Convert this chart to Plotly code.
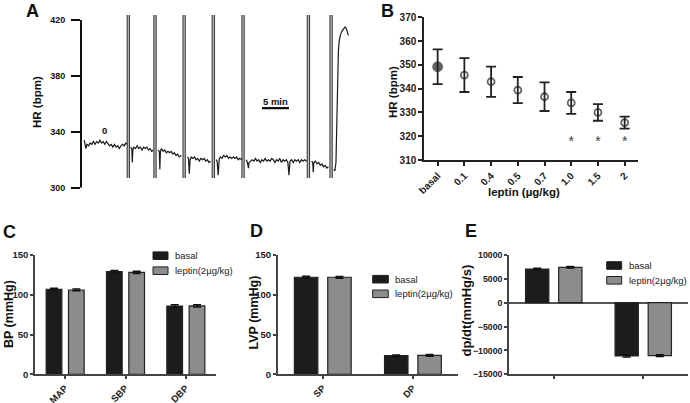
import plotly.graph_objects as go

W, H = 690, 403
FONT = "Arial, Liberation Sans, Helvetica, sans-serif"

# ---------------- Panel A: HR recording (time in min, HR in bpm) ----------------
HR_SEGMENTS = [
    [(0.6, 334), (0.8, 330), (0.9, 328), (1.1, 331), (1.4, 330), (1.7, 332), (2.0, 331), (2.3, 333),
     (2.6, 331), (2.9, 333), (3.2, 332), (3.5, 334), (3.8, 332), (4.1, 333), (4.4, 331), (4.7, 333),
     (5.0, 331), (5.3, 330), (5.6, 331), (5.9, 329), (6.2, 331), (6.5, 329), (6.8, 330), (7.1, 328),
     (7.4, 330), (7.7, 331), (8.0, 330), (8.3, 332), (8.5, 331)],
    [(9.2, 329), (9.4, 328), (9.5, 318), (9.6, 327), (9.8, 329), (10.1, 328), (10.4, 330), (10.7, 328),
     (11.0, 329), (11.3, 327), (11.6, 329), (11.9, 328), (12.2, 329), (12.5, 327), (12.8, 328),
     (13.1, 326), (13.4, 327)],
    [(14.3, 327), (14.5, 326), (14.6, 313), (14.7, 326), (14.9, 328), (15.2, 326), (15.5, 327),
     (15.8, 325), (16.1, 326), (16.4, 325), (16.7, 326), (17.0, 324), (17.3, 325), (17.6, 323),
     (17.9, 324), (18.2, 322), (18.6, 323)],
    [(19.7, 322), (19.9, 321), (20.05, 310), (20.2, 320), (20.4, 322), (20.7, 321), (21.0, 322),
     (21.3, 320), (21.6, 321), (21.9, 319), (22.2, 321), (22.5, 320), (22.8, 321), (23.1, 319),
     (23.4, 320), (23.7, 318), (24.0, 319)],
    [(25.0, 320), (25.2, 319), (25.4, 309), (25.6, 321), (25.8, 322), (26.1, 321), (26.4, 323),
     (26.7, 322), (27.0, 323), (27.3, 321), (27.6, 322), (27.9, 321), (28.2, 322), (28.5, 321),
     (28.8, 322), (29.1, 320), (29.4, 321), (29.8, 320)],
    [(30.6, 320), (30.8, 318), (31.0, 314), (31.1, 318), (31.4, 319), (31.7, 320), (32.0, 319),
     (32.3, 321), (32.6, 319), (32.9, 320), (33.2, 318), (33.5, 320), (33.8, 319), (34.1, 321),
     (34.4, 319), (34.7, 320), (35.0, 319), (35.3, 321), (35.6, 320), (35.9, 318), (36.2, 320),
     (36.5, 319), (36.8, 321), (37.1, 318), (37.4, 320), (37.7, 319), (38.0, 320), (38.3, 318),
     (38.5, 309), (38.7, 319), (39.0, 320), (39.3, 318), (39.6, 320), (39.9, 319), (40.2, 320),
     (40.5, 318), (40.8, 320), (41.1, 319), (41.4, 320), (41.8, 319)],
    [(42.7, 319), (42.9, 318), (43.0, 311), (43.1, 318), (43.4, 319), (43.7, 317), (44.0, 318),
     (44.3, 316), (44.6, 317), (44.9, 315), (45.2, 316), (45.5, 314), (45.8, 315)],
    [(46.8, 313), (47.0, 312), (47.2, 318), (47.35, 345), (47.5, 380), (47.65, 398), (47.8, 405),
     (48.0, 409), (48.3, 412), (48.6, 414), (48.9, 415), (49.1, 414), (49.3, 411), (49.5, 409)],
]
EVENT_TIMES = [8.76, 13.7, 19.1, 24.5, 30.0, 42.1, 46.3]
EVENT_LABELS = ["1", "2", "3", "4", "5", "6", "ISO"]
EVENT_SPAN = [307, 423.6]
EVENT_LABEL_LEVEL = 296.7
BASELINE_LABEL = ("0", 4.26, 340.6)
SCALE_BAR_START, SCALE_BAR_LEN, SCALE_BAR_LEVEL = 33.5, 5.0, 357
A_TICKS = [300, 340, 380, 420]

# ---------------- Panel B: dose response ----------------
DOSES = ["basal", "0.1", "0.4", "0.5", "0.7", "1.0", "1.5", "2"]
HR_MEAN = [349.2, 345.7, 342.9, 339.4, 336.6, 334.0, 330.0, 325.7]
HR_SEM = [7.3, 7.1, 6.4, 5.5, 6.0, 4.6, 3.5, 2.5]
SIG = ["", "", "", "", "", "*", "*", "*"]
STAR_LEVEL = 317.5

# ---------------- Panels C, D, E: bars ----------------
SERIES = ["basal", "leptin(2\u00b5g/kg)"]
SERIES_COLORS = ["#1c1c1c", "#8c8c8c"]

BP_CATS = ["MAP", "SBP", "DBP"]
BP_BASAL = [106.9, 129.0, 85.9]
BP_LEPTIN = [106.0, 128.2, 86.0]
BP_BASAL_ERR = [1.2, 1.6, 1.4]
BP_LEPTIN_ERR = [1.1, 1.5, 1.3]

LVP_CATS = ["SP", "DP"]
LVP_BASAL = [122.0, 23.4]
LVP_LEPTIN = [122.0, 23.8]
LVP_BASAL_ERR = [1.2, 0.9]
LVP_LEPTIN_ERR = [1.1, 1.0]

DPDT_CATS = ["+dp/dt", "-dp/dt"]
DPDT_BASAL = [7060, -11170]
DPDT_LEPTIN = [7420, -11100]
DPDT_BASAL_ERR = [150, 200]
DPDT_LEPTIN_ERR = [160, 190]


def px(p):
    return p / W


def py(p):
    return 1 - p / H


fig = go.Figure()

# ---- Panel A traces ----
tx, ty = [], []
for seg in HR_SEGMENTS:
    for t, v in seg:
        tx.append(t)
        ty.append(v)
    tx.append(None)
    ty.append(None)

ex, ey = [], []
for t in EVENT_TIMES:
    ex += [t, t, None]
    ey += [EVENT_SPAN[0], EVENT_SPAN[1], None]

fig.add_trace(go.Scatter(x=ex, y=ey, mode="lines", line=dict(color="#404040", width=3.4),
                         xaxis="x", yaxis="y", showlegend=False, hoverinfo="skip"))
fig.add_trace(go.Scatter(x=ex, y=ey, mode="lines", line=dict(color="#bdbdbd", width=1.2),
                         xaxis="x", yaxis="y", showlegend=False, hoverinfo="skip"))
fig.add_trace(go.Scatter(x=tx, y=ty, mode="lines", line=dict(color="#1a1a1a", width=1.2),
                         connectgaps=False, xaxis="x", yaxis="y", showlegend=False))
fig.add_trace(go.Scatter(x=[SCALE_BAR_START, SCALE_BAR_START + SCALE_BAR_LEN],
                         y=[SCALE_BAR_LEVEL, SCALE_BAR_LEVEL], mode="lines",
                         line=dict(color="#111", width=2.2), xaxis="x", yaxis="y", showlegend=False))

# ---- Panel B ----
symbols = ["circle"] + ["circle-open"] * (len(DOSES) - 1)
sizes = [9] + [7] * (len(DOSES) - 1)
fig.add_trace(go.Scatter(
    x=DOSES, y=HR_MEAN, mode="markers", xaxis="x2", yaxis="y2", showlegend=False,
    marker=dict(symbol=symbols, size=sizes, color="#222", line=dict(color="#222", width=1.8)),
    error_y=dict(type="data", array=HR_SEM, visible=True, thickness=1.8, width=5, color="#222"),
))
star_x = [d for d, s in zip(DOSES, SIG) if s]
star_t = [s for s in SIG if s]
fig.add_trace(go.Scatter(x=star_x, y=[STAR_LEVEL] * len(star_x), mode="text", text=star_t,
                         textfont=dict(family=FONT, size=14, color="#444"),
                         textposition="middle center", xaxis="x2", yaxis="y2", showlegend=False))

# ---- Bars ----
BAR_W = 0.26
OFFSETS = [-0.315, 0.055]


def add_bars(cats, vals_list, errs_list, xa, ya):
    for i, (vals, errs) in enumerate(zip(vals_list, errs_list)):
        fig.add_trace(go.Bar(
            x=cats, y=vals, width=BAR_W, offset=OFFSETS[i], name=SERIES[i],
            marker=dict(color=SERIES_COLORS[i], line=dict(color="#222", width=1.2)),
            error_y=dict(type="data", array=errs, visible=True, thickness=1.5, width=4, color="#111"),
            xaxis=xa, yaxis=ya, showlegend=False,
        ))


add_bars(BP_CATS, [BP_BASAL, BP_LEPTIN], [BP_BASAL_ERR, BP_LEPTIN_ERR], "x3", "y3")
add_bars(LVP_CATS, [LVP_BASAL, LVP_LEPTIN], [LVP_BASAL_ERR, LVP_LEPTIN_ERR], "x4", "y4")
add_bars(DPDT_CATS, [DPDT_BASAL, DPDT_LEPTIN], [DPDT_BASAL_ERR, DPDT_LEPTIN_ERR], "x5", "y5")

bold = lambda s, c="#222": dict(family=FONT, size=s, color=c, weight="bold")

common_hidden = dict(showgrid=False, zeroline=False, automargin=False)

layout = dict(
    width=W, height=H, margin=dict(l=0, r=0, t=0, b=0, pad=0, autoexpand=False),
    paper_bgcolor="white", plot_bgcolor="white", barmode="overlay", showlegend=False,
    font=dict(family=FONT, color="#222"),
    # Panel A
    xaxis=dict(domain=[px(81), px(350)], range=[0, 49.8], visible=False, **common_hidden),
    yaxis=dict(domain=[py(187.7), py(12)], range=[300, 425.7], tickvals=A_TICKS,
               ticks="outside", ticklen=9, tickwidth=2, tickcolor="#111", showline=False,
               tickfont=bold(9, "#111"), ticklabelstandoff=4, **common_hidden),
    # Panel B
    xaxis2=dict(domain=[px(424.3), px(638)], anchor="y2", type="category", range=[-0.5, 7.5],
                showline=True, linewidth=2, linecolor="#222", ticks="outside", ticklen=4,
                tickwidth=2, tickcolor="#222", tickangle=-45, tickfont=bold(10), **common_hidden),
    yaxis2=dict(domain=[py(160), py(17.3)], anchor="x2", range=[310, 370], dtick=10,
                showline=True, linewidth=2, linecolor="#222", ticks="outside", ticklen=4,
                tickwidth=2, tickcolor="#222", tickfont=bold(10), **common_hidden),
    # Panel C
    xaxis3=dict(domain=[px(35), px(216)], anchor="y3", type="category", range=[-0.5, 2.5],
                showline=True, linewidth=1.5, linecolor="#444", ticks="outside", ticklen=3,
                tickwidth=1.5, tickcolor="#444", tickangle=-45, tickfont=bold(9.5), **common_hidden),
    yaxis3=dict(domain=[py(374.3), py(255)], anchor="x3", range=[0, 150], dtick=50,
                showline=True, linewidth=1.5, linecolor="#444", ticks="outside", ticklen=3,
                tickwidth=1.5, tickcolor="#444", tickfont=bold(9.5), **common_hidden),
    # Panel D
    xaxis4=dict(domain=[px(277.7), px(458)], anchor="y4", type="category", range=[-0.5, 1.5],
                showline=True, linewidth=1.5, linecolor="#444", ticks="outside", ticklen=3,
                tickwidth=1.5, tickcolor="#444", tickangle=-45, tickfont=bold(9.5), **common_hidden),
    yaxis4=dict(domain=[py(374.3), py(255)], anchor="x4", range=[0, 150], dtick=50,
                showline=True, linewidth=1.5, linecolor="#444", ticks="outside", ticklen=3,
                tickwidth=1.5, tickcolor="#444", tickfont=bold(9.5), **common_hidden),
    # Panel E
    xaxis5=dict(domain=[px(509), px(688)], anchor="y5", type="category", range=[-0.5, 1.5],
                showline=True, linewidth=1.5, linecolor="#444", ticks="outside", ticklen=3,
                tickwidth=1.5, tickcolor="#444", showticklabels=False, showgrid=False,
                zeroline=False, automargin=False),
    yaxis5=dict(domain=[py(374.3), py(255)], anchor="x5", range=[-15000, 10000], dtick=5000,
                tickformat="d", showline=True, linewidth=1.5, linecolor="#444", ticks="outside",
                ticklen=3, tickwidth=1.5, tickcolor="#444", tickfont=bold(8.8), showgrid=False,
                zeroline=True, zerolinecolor="#555", zerolinewidth=1.5, automargin=False),
)
fig.update_layout(**layout)

ann = []
shapes = []

# Panel A axis line (only spans the tick range)
shapes.append(dict(type="line", xref="x domain", yref="y", x0=0, x1=0, y0=A_TICKS[0], y1=A_TICKS[-1],
                   line=dict(color="#111", width=2)))
# Panel A labels
for t, lab in zip(EVENT_TIMES, EVENT_LABELS):
    ann.append(dict(x=t, y=EVENT_LABEL_LEVEL, xref="x", yref="y", text=lab, showarrow=False,
                    font=bold(10, "#111"), xanchor="center", yanchor="middle"))
ann.append(dict(x=BASELINE_LABEL[1], y=BASELINE_LABEL[2], xref="x", yref="y", text=BASELINE_LABEL[0],
                showarrow=False, font=bold(9.5, "#111"), xanchor="center", yanchor="middle"))
ann.append(dict(x=SCALE_BAR_START + SCALE_BAR_LEN / 2, y=SCALE_BAR_LEVEL + 4.5, xref="x", yref="y",
                text="5 min", showarrow=False, font=bold(9.5, "#111"), xanchor="center", yanchor="middle"))


# Axis titles
def title(text, x, y, size, angle=0):
    ann.append(dict(x=px(x), y=py(y), xref="paper", yref="paper", text=text, showarrow=False,
                    textangle=angle, font=bold(size, "#111"), xanchor="center", yanchor="middle"))


title("HR (bpm)", 37, 102, 11.5, -90)
title("HR (bpm)", 393, 92, 11.5, -90)
title("leptin (\u00b5g/kg)", 524, 192, 11.5)
title("BP (mmHg)", 9, 314, 12.5, -90)
title("LVP (mmHg)", 253, 312.5, 12.5, -90)
title("dp/dt(mmHg/s)", 465.5, 310, 13, -90)

# Panel letters
for letter, x, y in [("A", 32, 11.5), ("B", 387.5, 11), ("C", 9, 232.5), ("D", 256.5, 231), ("E", 471, 231)]:
    title(letter, x, y, 18)

# Manual legends
LEGEND_POS = [  # rect x0, rect x1, row centres, text x
    (153, 168, [255.7, 270.7], 172.7),
    (372.7, 388.3, [279.2, 293.8], 393),
    (606.7, 621.7, [265.5, 280.3], 626.7),
]
for x0, x1, rows, tx0 in LEGEND_POS:
    for name, col, yc in zip(SERIES, SERIES_COLORS, rows):
        shapes.append(dict(type="rect", xref="paper", yref="paper", x0=px(x0), x1=px(x1),
                           y0=py(yc + 3.8), y1=py(yc - 3.8), fillcolor=col,
                           line=dict(color="#222", width=1)))
        ann.append(dict(x=px(tx0), y=py(yc), xref="paper", yref="paper", text=name, showarrow=False,
                        font=dict(family=FONT, size=9.5, color="#222"), xanchor="left", yanchor="middle"))

fig.update_layout(annotations=ann, shapes=shapes)
fig.write_html(
    "out.html",
    config={"displayModeBar": False},
    post_script="document.body.style.margin='0';document.body.style.overflow='hidden';",
)
